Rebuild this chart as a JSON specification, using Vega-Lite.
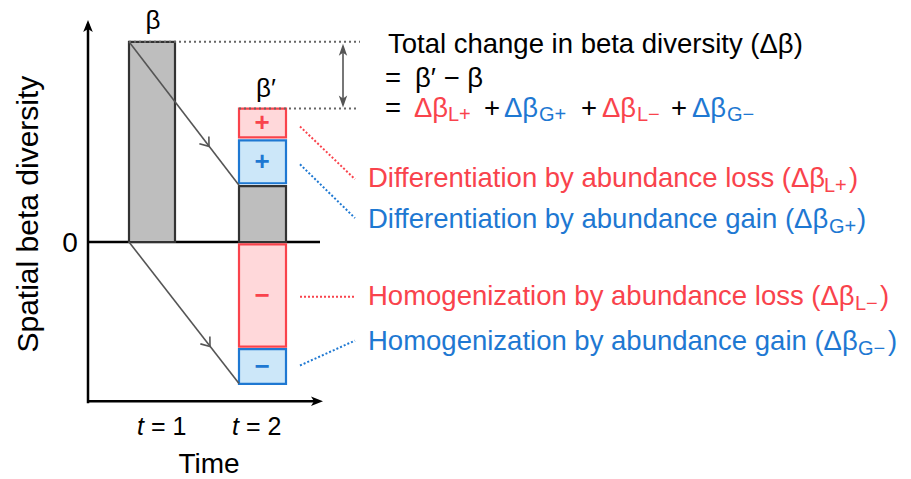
{
  "$schema": "https://vega.github.io/schema/vega-lite/v6.json",
  "width": 911,
  "height": 479,
  "autosize": {"type": "fit", "contains": "padding"},
  "padding": 0,
  "background": "white",
  "config": {"view": {"stroke": null}, "text": {"font": "Liberation Sans"}},
  "encoding": {
    "x": {"field": "x", "type": "quantitative", "scale": {"domain": [0, 911], "nice": false, "zero": false}, "axis": null},
    "y": {"field": "y", "type": "quantitative", "scale": {"domain": [-236, 243], "nice": false, "zero": false}, "axis": null}
  },
  "layer": [
    {
      "data": {"values": [
        {"x": 88, "y": -162, "x2": 88, "y2": 219},
        {"x": 87, "y": -160, "x2": 318, "y2": -160},
        {"x": 88, "y": 0, "x2": 320, "y2": 0}
      ]},
      "mark": {"type": "rule", "color": "black", "strokeWidth": 2.5},
      "encoding": {"x2": {"field": "x2"}, "y2": {"field": "y2"}}
    },
    {
      "data": {"values": [
        {"x": 129, "x2": 175, "y": 201, "y2": 0, "kind": "beta"},
        {"x": 239, "x2": 286, "y": 56, "y2": 0, "kind": "beta"},
        {"x": 239, "x2": 286, "y": 134, "y2": 105, "kind": "loss"},
        {"x": 239, "x2": 286, "y": 102, "y2": 59, "kind": "gain"},
        {"x": 239, "x2": 286, "y": -2.5, "y2": -105, "kind": "loss"},
        {"x": 239, "x2": 286, "y": -107.5, "y2": -142.5, "kind": "gain"}
      ]},
      "mark": {"type": "rect", "strokeWidth": 2.2, "opacity": 1},
      "encoding": {
        "x2": {"field": "x2"}, "y2": {"field": "y2"},
        "fill": {"field": "kind", "type": "nominal", "scale": {"domain": ["beta", "loss", "gain"], "range": ["#bebebe", "#ffd8da", "#cce7f9"]}, "legend": null},
        "stroke": {"field": "kind", "type": "nominal", "scale": {"domain": ["beta", "loss", "gain"], "range": ["#333333", "#f9434c", "#1e78d2"]}, "legend": null}
      }
    },
    {
      "data": {"values": [
        {"x": 129, "y": 201, "x2": 239, "y2": 57},
        {"x": 129, "y": 0, "x2": 239, "y2": -142},
        {"x": 343, "y": 196, "x2": 343, "y2": 138}
      ]},
      "mark": {"type": "rule", "color": "#555555", "strokeWidth": 1.6},
      "encoding": {"x2": {"field": "x2"}, "y2": {"field": "y2"}}
    },
    {
      "data": {"values": [
        {"x": 129, "y": 201, "x2": 360, "y2": 201},
        {"x": 239, "y": 134, "x2": 358, "y2": 134}
      ]},
      "mark": {"type": "rule", "color": "#666666", "strokeWidth": 2, "strokeDash": [2, 3]},
      "encoding": {"x2": {"field": "x2"}, "y2": {"field": "y2"}}
    },
    {
      "data": {"values": [
        {"x": 300, "y": 116, "x2": 355, "y2": 63, "grp": "loss"},
        {"x": 300, "y": 78, "x2": 355, "y2": 24, "grp": "gain"},
        {"x": 300, "y": -55, "x2": 355, "y2": -55, "grp": "loss"},
        {"x": 300, "y": -124, "x2": 355, "y2": -99, "grp": "gain"}
      ]},
      "mark": {"type": "rule", "strokeWidth": 2, "strokeDash": [2, 2]},
      "encoding": {
        "x2": {"field": "x2"}, "y2": {"field": "y2"},
        "color": {"field": "grp", "type": "nominal", "scale": {"domain": ["neutral", "loss", "gain"], "range": ["black", "#f9434c", "#1e78d2"]}, "legend": null}
      }
    },
    {
      "data": {"values": [{"x": 88, "y": 217}]},
      "mark": {"type": "point", "shape": "M1,0 L-1,-0.8 L-0.5,0 L-1,0.8 Z", "filled": true, "fill": "black", "size": 144, "angle": 270, "opacity": 1, "strokeWidth": 0}
    },
    {
      "data": {"values": [{"x": 317, "y": -160}]},
      "mark": {"type": "point", "shape": "M1,0 L-1,-0.8 L-0.5,0 L-1,0.8 Z", "filled": true, "fill": "black", "size": 144, "angle": 0, "opacity": 1, "strokeWidth": 0}
    },
    {
      "data": {"values": [{"x": 343, "y": 193}]},
      "mark": {"type": "point", "shape": "M1,0 L-1,-0.7 L-0.5,0 L-1,0.7 Z", "filled": true, "fill": "#555555", "size": 144, "angle": 270, "opacity": 1, "strokeWidth": 0}
    },
    {
      "data": {"values": [{"x": 343, "y": 141}]},
      "mark": {"type": "point", "shape": "M1,0 L-1,-0.7 L-0.5,0 L-1,0.7 Z", "filled": true, "fill": "#555555", "size": 144, "angle": 90, "opacity": 1, "strokeWidth": 0}
    },
    {
      "data": {"values": [{"x": 209, "y": 96}, {"x": 210, "y": -105}]},
      "mark": {"type": "point", "shape": "M-1,-0.75 L0,0 L-1,0.75", "filled": false, "stroke": "#555555", "strokeWidth": 1.6, "size": 256, "angle": 52.4, "opacity": 1}
    },
    {
      "data": {"values": [
        {"x": 388, "y": 190, "label": "Total change in beta diversity (Δβ)", "grp": "neutral"},
        {"x": 385, "y": 156, "label": "=", "grp": "neutral"},
        {"x": 415, "y": 156, "label": "β′ − β", "grp": "neutral"},
        {"x": 385, "y": 126, "label": "=", "grp": "neutral"},
        {"x": 414, "y": 126, "label": "Δβ", "grp": "loss"},
        {"x": 484, "y": 126, "label": "+", "grp": "neutral"},
        {"x": 504, "y": 126, "label": "Δβ", "grp": "gain"},
        {"x": 581, "y": 126, "label": "+", "grp": "neutral"},
        {"x": 602, "y": 126, "label": "Δβ", "grp": "loss"},
        {"x": 671, "y": 126, "label": "+", "grp": "neutral"},
        {"x": 692, "y": 126, "label": "Δβ", "grp": "gain"},
        {"x": 368, "y": 55, "label": "Differentiation by abundance loss (Δβ", "grp": "loss"},
        {"x": 849, "y": 55, "label": ")", "grp": "loss"},
        {"x": 368, "y": 14, "label": "Differentiation by abundance gain (Δβ", "grp": "gain"},
        {"x": 857, "y": 14, "label": ")", "grp": "gain"},
        {"x": 368, "y": -63, "label": "Homogenization by abundance loss (Δβ", "grp": "loss"},
        {"x": 880, "y": -63, "label": ")", "grp": "loss"},
        {"x": 368, "y": -108, "label": "Homogenization by abundance gain (Δβ", "grp": "gain"},
        {"x": 888, "y": -108, "label": ")", "grp": "gain"}
      ]},
      "mark": {"type": "text", "align": "left", "baseline": "alphabetic", "fontSize": 27.5},
      "encoding": {
        "text": {"field": "label"},
        "color": {"field": "grp", "type": "nominal", "scale": {"domain": ["neutral", "loss", "gain"], "range": ["black", "#f9434c", "#1e78d2"]}, "legend": null}
      }
    },
    {
      "data": {"values": [
        {"x": 448, "y": 121, "label": "L+", "grp": "loss"},
        {"x": 539, "y": 121, "label": "G+", "grp": "gain"},
        {"x": 637, "y": 121, "label": "L−", "grp": "loss"},
        {"x": 727, "y": 121, "label": "G−", "grp": "gain"},
        {"x": 824, "y": 50, "label": "L+", "grp": "loss"},
        {"x": 829, "y": 9, "label": "G+", "grp": "gain"},
        {"x": 855, "y": -68, "label": "L−", "grp": "loss"},
        {"x": 858, "y": -113, "label": "G−", "grp": "gain"}
      ]},
      "mark": {"type": "text", "align": "left", "baseline": "alphabetic", "fontSize": 20},
      "encoding": {
        "text": {"field": "label"},
        "color": {"field": "grp", "type": "nominal", "scale": {"domain": ["neutral", "loss", "gain"], "range": ["black", "#f9434c", "#1e78d2"]}, "legend": null}
      }
    },
    {
      "data": {"values": [
        {"x": 153, "y": 214, "label": "β"},
        {"x": 266, "y": 146, "label": "β′"}
      ]},
      "mark": {"type": "text", "align": "center", "baseline": "alphabetic", "fontSize": 26, "color": "black"},
      "encoding": {"text": {"field": "label"}}
    },
    {
      "data": {"values": [
        {"x": 70, "y": -10, "label": "0"},
        {"x": 209, "y": -232, "label": "Time"}
      ]},
      "mark": {"type": "text", "align": "center", "baseline": "alphabetic", "fontSize": 28, "color": "black"},
      "encoding": {"text": {"field": "label"}}
    },
    {
      "data": {"values": [
        {"x": 137, "y": -194, "label": "t"},
        {"x": 232, "y": -194, "label": "t"}
      ]},
      "mark": {"type": "text", "align": "left", "baseline": "alphabetic", "fontSize": 25, "fontStyle": "italic", "color": "black"},
      "encoding": {"text": {"field": "label"}}
    },
    {
      "data": {"values": [
        {"x": 151, "y": -194, "label": "= 1"},
        {"x": 246, "y": -194, "label": "= 2"}
      ]},
      "mark": {"type": "text", "align": "left", "baseline": "alphabetic", "fontSize": 25, "color": "black"},
      "encoding": {"text": {"field": "label"}}
    },
    {
      "data": {"values": [{"x": 38, "y": 28, "label": "Spatial beta diversity"}]},
      "mark": {"type": "text", "align": "center", "baseline": "alphabetic", "fontSize": 30, "angle": 270, "color": "black"},
      "encoding": {"text": {"field": "label"}}
    },
    {
      "data": {"values": [
        {"x": 262, "y": 119, "label": "+", "grp": "loss"},
        {"x": 262, "y": 80, "label": "+", "grp": "gain"},
        {"x": 262, "y": -54, "label": "−", "grp": "loss"},
        {"x": 262, "y": -126, "label": "−", "grp": "gain"}
      ]},
      "mark": {"type": "text", "align": "center", "baseline": "middle", "fontSize": 26, "fontWeight": "bold"},
      "encoding": {
        "text": {"field": "label"},
        "color": {"field": "grp", "type": "nominal", "scale": {"domain": ["neutral", "loss", "gain"], "range": ["black", "#f9434c", "#1e78d2"]}, "legend": null}
      }
    }
  ]
}
